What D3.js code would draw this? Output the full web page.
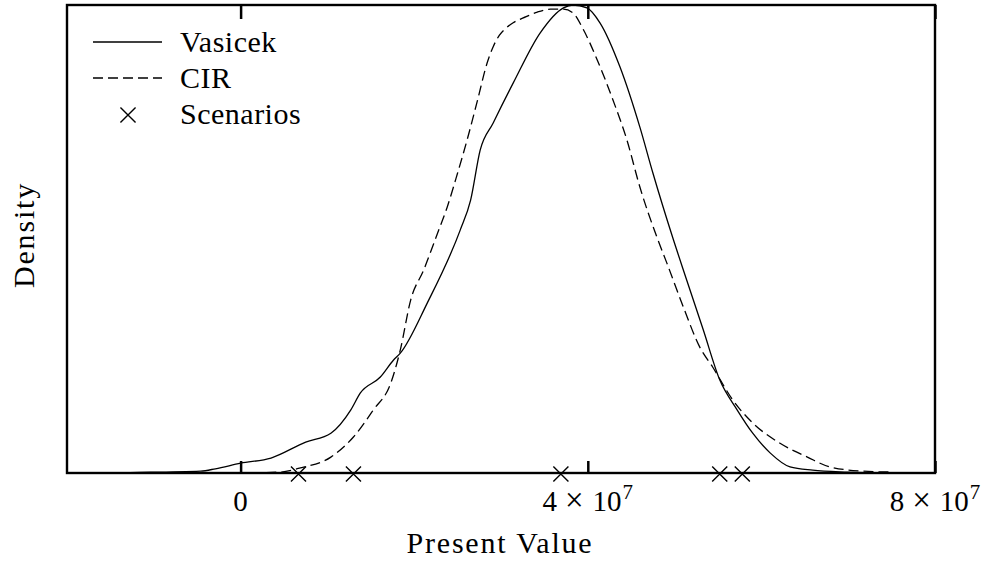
<!DOCTYPE html>
<html>
<head>
<meta charset="utf-8">
<script src="https://cdn.jsdelivr.net/npm/d3@7"></script>
<style>
  body { margin: 0; background: #fff; }
  svg text { font-family: "Liberation Serif", "DejaVu Serif", serif; fill: #000; }
</style>
</head>
<body>
<svg id="chart" width="987" height="562"></svg>
<script>
// present value in units of 1e7, density relative to the Vasicek peak
const vasicekPV = [-1.6, -1.27, -0.46, -0.29, 0, 0.35, 0.75, 1.04, 1.27, 1.38, 1.61, 1.76, 1.84, 2.15, 2.53, 2.65, 2.76, 2.91, 3.14, 3.45, 3.72, 3.83, 3.99, 4.14, 4.37, 4.60, 4.75, 4.98, 5.14, 5.33, 5.52, 5.72, 5.90, 6.10, 6.33, 6.59, 6.99, 7.51];
const vasicekDensity = [0, 0.001, 0.004, 0.009, 0.021, 0.032, 0.066, 0.085, 0.135, 0.171, 0.205, 0.241, 0.256, 0.363, 0.519, 0.583, 0.690, 0.748, 0.833, 0.940, 0.994, 1.0, 0.994, 0.962, 0.868, 0.739, 0.641, 0.502, 0.412, 0.306, 0.199, 0.135, 0.085, 0.043, 0.013, 0.006, 0.002, 0];

const cirPV = [-0.05, 0.46, 0.69, 1.04, 1.30, 1.53, 1.73, 1.84, 1.96, 2.11, 2.27, 2.38, 2.50, 2.61, 2.73, 2.84, 2.91, 2.98, 3.06, 3.14, 3.29, 3.42, 3.57, 3.72, 3.83, 3.95, 4.11, 4.29, 4.45, 4.60, 4.80, 4.91, 5.10, 5.29, 5.44, 5.67, 5.90, 6.21, 6.53, 6.79, 7.17, 7.51];
const cirDensity = [0, 0.002, 0.011, 0.034, 0.077, 0.135, 0.192, 0.263, 0.370, 0.434, 0.513, 0.568, 0.641, 0.712, 0.797, 0.876, 0.911, 0.935, 0.951, 0.962, 0.975, 0.985, 0.991, 0.991, 0.983, 0.947, 0.882, 0.797, 0.712, 0.611, 0.502, 0.449, 0.355, 0.269, 0.226, 0.156, 0.107, 0.064, 0.034, 0.013, 0.004, 0.002];

const scenarioPV = [0.667, 1.30, 3.69, 5.52, 5.78];

const xTicks = [0, 4, 8];
const xTickMantissa = ["0", "4", "8"];
const xTickExponent = [null, "7", "7"];

const legendNames = ["Vasicek", "CIR", "Scenarios"];

const svg = d3.select("#chart");
const plotLeft = 67, plotRight = 935, plotTop = 5, plotBottom = 473;

const x = d3.scaleLinear().domain([-2, 8]).range([plotLeft, plotRight]);
const y = d3.scaleLinear().domain([0, 1]).range([plotBottom, plotTop]);

const line = d3.line()
  .x(d => x(d[0]))
  .y(d => y(d[1]))
  .curve(d3.curveMonotoneX);

const vasicek = vasicekPV.map((v, i) => [v, vasicekDensity[i]]);
const cir = cirPV.map((v, i) => [v, cirDensity[i]]);

svg.append("path")
  .attr("d", line(vasicek))
  .attr("fill", "none")
  .attr("stroke", "#000")
  .attr("stroke-width", 1.3);

svg.append("path")
  .attr("d", line(cir))
  .attr("fill", "none")
  .attr("stroke", "#000")
  .attr("stroke-width", 1.3)
  .attr("stroke-dasharray", "10,5");

// frame
svg.append("rect")
  .attr("x", plotLeft).attr("y", plotTop)
  .attr("width", plotRight - plotLeft).attr("height", plotBottom - plotTop)
  .attr("fill", "none")
  .attr("stroke", "#000")
  .attr("stroke-width", 2.4);

// inward ticks on bottom and top
const bottomAxis = svg.append("g")
  .attr("transform", `translate(0,${plotBottom})`)
  .call(d3.axisBottom(x).tickValues(xTicks).tickSizeInner(-12).tickSizeOuter(0).tickFormat(""));
const topAxis = svg.append("g")
  .attr("transform", `translate(0,${plotTop})`)
  .call(d3.axisTop(x).tickValues(xTicks).tickSizeInner(-14).tickSizeOuter(0).tickFormat(""));
[bottomAxis, topAxis].forEach(g => {
  g.select(".domain").remove();
  g.selectAll(".tick line").attr("stroke", "#000").attr("stroke-width", 2.5);
});

// tick labels: mantissa x 10^exponent
xTicks.forEach((t, i) => {
  const txt = svg.append("text")
    .attr("x", x(t))
    .attr("y", 511)
    .attr("text-anchor", "middle")
    .attr("font-size", 29);
  txt.append("tspan").text(xTickMantissa[i]);
  if (xTickExponent[i]) {
    txt.append("tspan").attr("dx", 8).attr("font-size", 33).text("\u00d7");
    txt.append("tspan").attr("dx", 9).text("10");
    txt.append("tspan").attr("dx", 1).attr("dy", -12).attr("font-size", 21).text(xTickExponent[i]);
  }
});

// scenario markers
const cross = d3.symbol().type(d3.symbolX).size(150);
svg.selectAll(".scenario")
  .data(scenarioPV)
  .join("path")
  .attr("class", "scenario")
  .attr("transform", d => `translate(${x(d)},${plotBottom + 1})`)
  .attr("d", cross)
  .attr("fill", "none")
  .attr("stroke", "#000")
  .attr("stroke-width", 1.4);

// axis titles
svg.append("text")
  .attr("x", 500).attr("y", 553)
  .attr("text-anchor", "middle")
  .attr("font-size", 30)
  .attr("letter-spacing", 1.8)
  .text("Present Value");

svg.append("text")
  .attr("transform", "translate(34,235) rotate(-90)")
  .attr("text-anchor", "middle")
  .attr("font-size", 30)
  .attr("letter-spacing", 1.8)
  .text("Density");

// legend
const legend = svg.append("g");
const rowY = [42, 78, 114];
legendNames.forEach((name, i) => {
  if (i < 2) {
    legend.append("line")
      .attr("x1", 93).attr("x2", 162)
      .attr("y1", rowY[i]).attr("y2", rowY[i])
      .attr("stroke", "#000")
      .attr("stroke-width", 1.3)
      .attr("stroke-dasharray", i === 1 ? "10,5" : null);
  } else {
    legend.append("path")
      .attr("transform", `translate(128,${rowY[i] + 1})`)
      .attr("d", cross)
      .attr("fill", "none")
      .attr("stroke", "#000")
      .attr("stroke-width", 1.4);
  }
  legend.append("text")
    .attr("x", 180).attr("y", rowY[i] + 10)
    .attr("font-size", 30)
    .attr("letter-spacing", 0.5)
    .text(name);
});
</script>
</body>
</html>
